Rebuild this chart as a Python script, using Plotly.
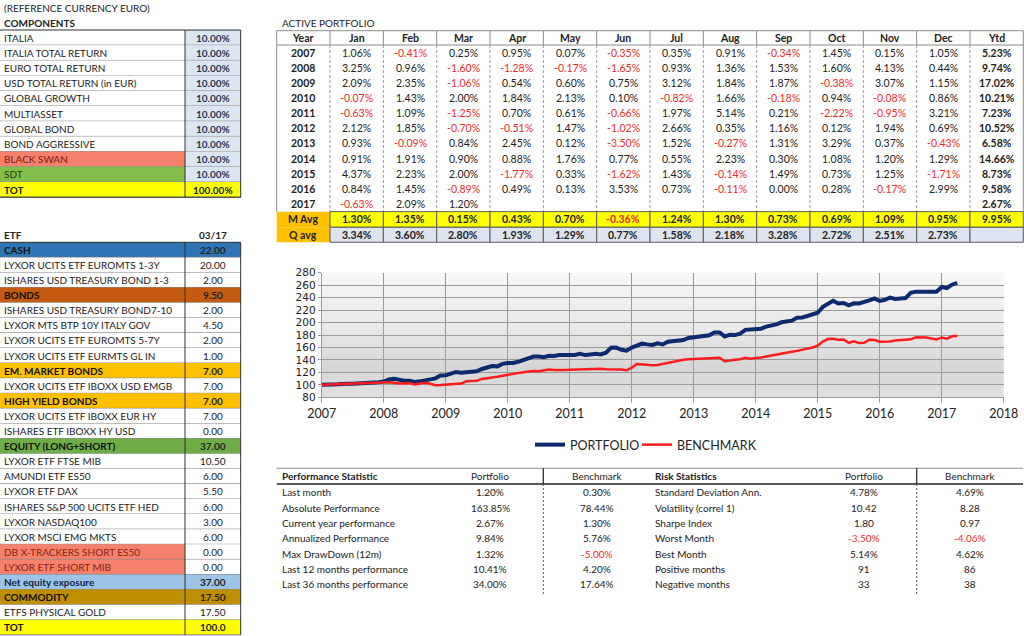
import plotly.graph_objects as go

W, H = 1024, 636
FONT = "Lato"
INK = "#222222"
NEG = "#ee2b2b"

# ---------------- data ----------------
component_names = ["ITALIA", "ITALIA TOTAL RETURN", "EURO TOTAL RETURN", "USD TOTAL RETURN (in EUR)",
                   "GLOBAL GROWTH", "MULTIASSET", "GLOBAL BOND", "BOND AGGRESSIVE", "BLACK SWAN", "SDT", "TOT"]
component_weights = [10.00, 10.00, 10.00, 10.00, 10.00, 10.00, 10.00, 10.00, 10.00, 10.00, 100.00]

etf_names = ["CASH", "LYXOR UCITS ETF EUROMTS 1-3Y", "ISHARES USD TREASURY BOND 1-3", "BONDS",
             "ISHARES USD TREASURY BOND7-10", "LYXOR MTS BTP 10Y ITALY GOV", "LYXOR UCITS ETF EUROMTS 5-7Y",
             "LYXOR UCITS ETF EURMTS GL IN", "EM. MARKET BONDS", "LYXOR UCITS ETF IBOXX USD EMGB",
             "HIGH YIELD BONDS", "LYXOR UCITS ETF IBOXX EUR HY", "ISHARES ETF IBOXX HY USD",
             "EQUITY (LONG+SHORT)", "LYXOR ETF FTSE MIB", "AMUNDI ETF ES50", "LYXOR ETF DAX",
             "ISHARES S&P 500 UCITS ETF HED", "LYXOR NASDAQ100", "LYXOR MSCI EMG MKTS",
             "DB X-TRACKERS SHORT ES50", "LYXOR ETF SHORT MIB", "Net equity exposure", "COMMODITY",
             "ETFS PHYSICAL GOLD", "TOT"]
etf_values = [22.00, 20.00, 2.00, 9.50, 2.00, 4.50, 2.00, 1.00, 7.00, 7.00, 7.00, 7.00, 0.00, 37.00,
              10.50, 6.00, 5.50, 6.00, 3.00, 6.00, 0.00, 0.00, 37.00, 17.50, 17.50, 100.0]
etf_date = "03/17"

years = [2007, 2008, 2009, 2010, 2011, 2012, 2013, 2014, 2015, 2016, 2017]
month_names = ["Jan", "Feb", "Mar", "Apr", "May", "Jun", "Jul", "Aug", "Sep", "Oct", "Nov", "Dec"]
returns_2007 = [1.06, -0.41, 0.25, 0.95, 0.07, -0.35, 0.35, 0.91, -0.34, 1.45, 0.15, 1.05]
returns_2008 = [3.25, 0.96, -1.60, -1.28, -0.17, -1.65, 0.93, 1.36, 1.53, 1.60, 4.13, 0.44]
returns_2009 = [2.09, 2.35, -1.06, 0.54, 0.60, 0.75, 3.12, 1.84, 1.87, -0.38, 3.07, 1.15]
returns_2010 = [-0.07, 1.43, 2.00, 1.84, 2.13, 0.10, -0.82, 1.66, -0.18, 0.94, -0.08, 0.86]
returns_2011 = [-0.63, 1.09, -1.25, 0.70, 0.61, -0.66, 1.97, 5.14, 0.21, -2.22, -0.95, 3.21]
returns_2012 = [2.12, 1.85, -0.70, -0.51, 1.47, -1.02, 2.66, 0.35, 1.16, 0.12, 1.94, 0.69]
returns_2013 = [0.93, -0.09, 0.84, 2.45, 0.12, -3.50, 1.52, -0.27, 1.31, 3.29, 0.37, -0.43]
returns_2014 = [0.91, 1.91, 0.90, 0.88, 1.76, 0.77, 0.55, 2.23, 0.30, 1.08, 1.20, 1.29]
returns_2015 = [4.37, 2.23, 2.00, -1.77, 0.33, -1.62, 1.43, -0.14, 1.49, 0.73, 1.25, -1.71]
returns_2016 = [0.84, 1.45, -0.89, 0.49, 0.13, 3.53, 0.73, -0.11, 0.00, 0.28, -0.17, 2.99]
returns_2017 = [-0.63, 2.09, 1.20, None, None, None, None, None, None, None, None, None]
monthly_returns = [returns_2007, returns_2008, returns_2009, returns_2010, returns_2011, returns_2012,
                   returns_2013, returns_2014, returns_2015, returns_2016, returns_2017]
ytd_returns = [5.23, 9.74, 17.02, 10.21, 7.23, 10.52, 6.58, 14.66, 8.73, 9.58, 2.67]
m_avg = [1.30, 1.35, 0.15, 0.43, 0.70, -0.36, 1.24, 1.30, 0.73, 0.69, 1.09, 0.95, 9.95]
q_avg = [3.34, 3.60, 2.80, 1.93, 1.29, 0.77, 1.58, 2.18, 3.28, 2.72, 2.51, 2.73]

# benchmark index (start = 100, then month ends)
benchmark_index = [100.0,
    100.4, 100.7, 101.0, 101.3, 101.6, 101.8, 102.3, 102.8, 103.2, 103.6, 104.1, 104.6,   # 2007
    104.2, 103.4, 102.1, 102.6, 103.0, 100.4, 101.5, 103.4, 101.8, 99.3, 99.6, 100.3,     # 2008
    100.8, 101.5, 102.0, 105.6, 106.0, 106.7, 109.5, 110.4, 111.5, 113.0, 114.6, 116.4,   # 2009
    117.4, 118.8, 120.1, 121.5, 122.2, 122.0, 123.3, 124.6, 123.9, 124.5, 124.0, 124.4,   # 2010
    124.8, 124.2, 125.0, 125.5, 125.2, 125.8, 125.0, 124.9, 125.4, 124.6, 123.3, 127.6,   # 2011
    133.5, 132.5, 131.5, 131.3, 132.0, 133.8, 135.5, 136.5, 138.5, 140.4, 141.2, 142.0,   # 2012
    142.0, 142.3, 142.6, 143.6, 143.4, 137.8, 139.5, 140.4, 141.2, 143.6, 142.0, 142.6,   # 2013
    143.8, 145.5, 147.2, 149.0, 150.5, 152.0, 153.2, 154.5, 156.5, 157.6, 160.0, 163.0,   # 2014
    169.5, 173.5, 174.1, 172.5, 172.8, 167.5, 170.0, 167.0, 167.5, 172.4, 172.0, 169.3,   # 2015
    169.0, 169.5, 171.0, 172.0, 172.5, 173.0, 176.3, 176.3, 176.0, 174.5, 173.0, 176.1,   # 2016
    174.2, 177.9, 178.4]                                                                  # 2017

perf_labels = ["Last month", "Absolute Performance", "Current year performance", "Annualized Performance",
               "Max DrawDown (12m)", "Last 12 months performance", "Last 36 months performance"]
perf_portfolio = ["1.20%", "163.85%", "2.67%", "9.84%", "1.32%", "10.41%", "34.00%"]
perf_benchmark = ["0.30%", "78.44%", "1.30%", "5.76%", "-5.00%", "4.20%", "17.64%"]
risk_labels = ["Standard Deviation Ann.", "Volatility (correl 1)", "Sharpe Index", "Worst Month",
               "Best Month", "Positive months", "Negative months"]
risk_portfolio = ["4.78%", "10.42", "1.80", "-3.50%", "5.14%", "91", "33"]
risk_benchmark = ["4.69%", "8.28", "0.97", "-4.06%", "4.62%", "86", "38"]

# ---------------- helpers ----------------
shapes, annots = [], []


def X(px):
    return px / W


def Y(py):
    return 1 - py / H


def rect(x0, y0, x1, y1, fill=None, line=None, lw=1):
    shapes.append(dict(type="rect", xref="paper", yref="paper", x0=X(x0), x1=X(x1), y0=Y(y1), y1=Y(y0),
                       fillcolor=fill if fill else "rgba(0,0,0,0)",
                       line=dict(color=line if line else "rgba(0,0,0,0)", width=lw if line else 0),
                       layer="below"))


def seg(x0, y0, x1, y1, color="#8c8c8c", lw=1, dash="solid"):
    shapes.append(dict(type="line", xref="paper", yref="paper", x0=X(x0), x1=X(x1), y0=Y(y0), y1=Y(y1),
                       line=dict(color=color, width=lw, dash=dash), layer="below"))


def text(px, py, s, anchor="left", bold=False, color=INK, size=10):
    annots.append(dict(x=X(px), y=Y(py), xref="paper", yref="paper", text=("<b>%s</b>" % s) if bold else s,
                       showarrow=False, xanchor=anchor, yanchor="middle",
                       font=dict(family=FONT, size=size, color=color)))


def pct(v):
    return "%.2f%%" % v


# ---------------- left: components ----------------
text(2, 8, "(REFERENCE CURRENCY EURO)")
text(2, 23, "COMPONENTS", bold=True)
c_top, c_rh = 30.0, 15.2
LX1, VX1 = 185.0, 240.7
comp_style = {"BLACK SWAN": ("#f4816b", "#7a1a10"), "SDT": ("#82bd4a", "#1e3d12"), "TOT": ("#ffff00", INK)}
for i, (name, w) in enumerate(zip(component_names, component_weights)):
    y0 = c_top + i * c_rh
    y1 = y0 + c_rh
    lf, tc = comp_style.get(name, ("#ffffff", INK))
    vf = "#ffff00" if name == "TOT" else "#dce6f1"
    rect(0, y0, LX1, y1, fill=lf)
    rect(LX1, y0, VX1, y1, fill=vf)
    seg(0, y1, VX1, y1, color="#8c8c8c")
    text(2, (y0 + y1) / 2, name, bold=(name == "TOT"), color=tc)
    text((LX1 + VX1) / 2, (y0 + y1) / 2, pct(w), anchor="center", bold=True,
         color=INK if name == "TOT" else "#1f3556")
c_bot = c_top + len(component_names) * c_rh
seg(0, c_top, VX1, c_top, color="#303030")
seg(LX1, c_top, LX1, c_bot, color="#303030")
seg(VX1, c_top, VX1, c_bot, color="#303030")
seg(0, c_bot, VX1, c_bot, color="#303030")

# ---------------- left: ETF table ----------------
text(2, 235, "ETF", bold=True)
text((LX1 + VX1) / 2, 235, etf_date, anchor="center", bold=True)
e_top, e_rh = 242.3, 15.1
etf_style = {
    "CASH": ("#2e75b6", "#2e75b6", True, "#101010"),
    "BONDS": ("#c55a11", "#c55a11", True, "#101010"),
    "EM. MARKET BONDS": ("#ffc000", "#ffc000", True, "#101010"),
    "HIGH YIELD BONDS": ("#ffc000", "#ffc000", True, "#101010"),
    "EQUITY (LONG+SHORT)": ("#70ad47", "#70ad47", True, "#101010"),
    "DB X-TRACKERS SHORT ES50": ("#f4816b", "#ffffff", False, "#8a1e12"),
    "LYXOR ETF SHORT MIB": ("#f4816b", "#ffffff", False, "#8a1e12"),
    "Net equity exposure": ("#9dc3e6", "#9dc3e6", True, "#0d1f44"),
    "COMMODITY": ("#bf8f00", "#bf8f00", True, "#101010"),
    "TOT": ("#ffff00", "#ffff00", True, "#101010"),
}
for i, (name, v) in enumerate(zip(etf_names, etf_values)):
    y0 = e_top + i * e_rh
    y1 = y0 + e_rh
    lf, vf, b, tc = etf_style.get(name, ("#ffffff", "#ffffff", False, INK))
    rect(0, y0, LX1, y1, fill=lf)
    rect(LX1, y0, VX1, y1, fill=vf)
    seg(0, y1, VX1, y1, color="#7f7f7f")
    text(2, (y0 + y1) / 2, name, bold=b, color=tc)
    vs = ("%.1f" % v) if name == "TOT" else ("%.2f" % v)
    text((LX1 + VX1) / 2, (y0 + y1) / 2, vs, anchor="center", bold=b, color=INK)
e_bot = e_top + len(etf_names) * e_rh
seg(0, e_top, VX1, e_top, color="#303030")
seg(LX1, e_top, LX1, e_bot, color="#303030")
seg(VX1, e_top, VX1, e_bot, color="#303030")

# ---------------- active portfolio table ----------------
TS = 10.5
text(280, 23, "ACTIVE PORTFOLIO")
tx0, cw = 276.7, 53.33
cols = ["Year"] + month_names + ["Ytd"]
colx = [tx0 + k * cw for k in range(len(cols) + 1)]
h_top, h_bot = 30.7, 45.0
r_h = 15.15
rect(colx[0], h_top, colx[-1], h_bot, fill="#ffffff", line="#8c8c8c")
for k, c in enumerate(cols):
    if k > 0:
        seg(colx[k], h_top, colx[k], h_bot, color="#8c8c8c")
    text((colx[k] + colx[k + 1]) / 2, (h_top + h_bot) / 2, c, anchor="center", bold=True, size=TS)
d_bot = h_bot + len(years) * r_h
seg(colx[0], h_bot, colx[0], d_bot, color="#8c8c8c")
seg(colx[-1], h_bot, colx[-1], d_bot, color="#8c8c8c")
for k in range(1, len(cols)):
    seg(colx[k], h_bot, colx[k], d_bot, color="#9a9a9a", dash="3px,2px")
for i, (yr, rets, ytd) in enumerate(zip(years, monthly_returns, ytd_returns)):
    yc = h_bot + (i + 0.5) * r_h
    text((colx[0] + colx[1]) / 2, yc, str(yr), anchor="center", bold=True, size=TS)
    for m, r in enumerate(rets):
        if r is None:
            continue
        text((colx[m + 1] + colx[m + 2]) / 2, yc, pct(r), anchor="center",
             color=NEG if r < 0 else INK, size=TS)
    text((colx[13] + colx[14]) / 2, yc, pct(ytd), anchor="center", bold=True, size=TS)

ma_top, ma_bot = d_bot, d_bot + 15.6
qa_top, qa_bot = ma_bot, ma_bot + 15.0
rect(colx[0], ma_top, colx[1], ma_bot, fill="#ffc000")
rect(colx[0], qa_top, colx[1], qa_bot, fill="#ffc000")
text((colx[0] + colx[1]) / 2, (ma_top + ma_bot) / 2, "M Avg", anchor="center", bold=True, size=TS)
text((colx[0] + colx[1]) / 2, (qa_top + qa_bot) / 2, "Q avg", anchor="center", bold=True, size=TS)
for k in range(1, len(cols)):
    rect(colx[k], ma_top, colx[k + 1], ma_bot, fill="#ffff00", line="#5a5a5a")
    rect(colx[k], qa_top, colx[k + 1], qa_bot, fill="#dde3ef", line="#5a5a5a")
for k, v in enumerate(m_avg):
    text((colx[k + 1] + colx[k + 2]) / 2, (ma_top + ma_bot) / 2, pct(v), anchor="center", bold=True,
         color=NEG if v < 0 else INK, size=TS)
for k, v in enumerate(q_avg):
    text((colx[k + 1] + colx[k + 2]) / 2, (qa_top + qa_bot) / 2, pct(v), anchor="center", bold=True, size=TS)

# ---------------- statistics tables ----------------
s_top, s_hdr = 468.3, 484.0
s_row0, s_rh = 492.3, 15.33
seg(276.7, s_top, 1023, s_top, color="#8c8c8c")
seg(276.7, s_hdr, 1023, s_hdr, color="#202020", lw=1.5)
s_end = s_row0 + (len(perf_labels) - 0.5) * s_rh + 3
for xd in (543.3, 916.7):
    seg(xd, s_top, xd, s_hdr, color="#202020", lw=1.2)
    seg(xd, s_hdr, xd, s_end, color="#555555", dash="2px,2px")
hy = (s_top + s_hdr) / 2
text(280, hy, "Performance Statistic", bold=True)
text(490, hy, "Portfolio", anchor="center")
text(597, hy, "Benchmark", anchor="center")
text(652.7, hy, "Risk Statistics", bold=True)
text(864, hy, "Portfolio", anchor="center")
text(970, hy, "Benchmark", anchor="center")
for i in range(len(perf_labels)):
    yc = s_row0 + i * s_rh
    text(280, yc, perf_labels[i])
    text(490, yc, perf_portfolio[i], anchor="center", color=NEG if perf_portfolio[i].startswith("-") else INK)
    text(597, yc, perf_benchmark[i], anchor="center", color=NEG if perf_benchmark[i].startswith("-") else INK)
    text(652.7, yc, risk_labels[i])
    text(864, yc, risk_portfolio[i], anchor="center", color=NEG if risk_portfolio[i].startswith("-") else INK)
    text(970, yc, risk_benchmark[i], anchor="center", color=NEG if risk_benchmark[i].startswith("-") else INK)

# ---------------- chart ----------------
portfolio_index = [100.0]
for rets in monthly_returns:
    for r in rets:
        if r is not None:
            portfolio_index.append(portfolio_index[-1] * (1 + r / 100.0))
x_port = [years[0] + i / 12.0 for i in range(len(portfolio_index))]
x_bench = [years[0] + i / 12.0 for i in range(len(benchmark_index))]

# plot-area gradient background
stops = [(0.0, 247), (0.45, 232), (0.78, 213), (1.0, 224)]
n_strips = 40


def shade(t):
    for (t0, c0), (t1, c1) in zip(stops[:-1], stops[1:]):
        if t0 <= t <= t1:
            return c0 + (c1 - c0) * (t - t0) / (t1 - t0)
    return stops[-1][1]


for s in range(n_strips):
    t = (s + 0.5) / n_strips
    g = int(round(shade(t)))
    shapes.append(dict(type="rect", xref="x domain", yref="y domain", x0=0, x1=1,
                       y0=1 - (s + 1) / n_strips, y1=1 - s / n_strips + 0.002,
                       fillcolor="rgb(%d,%d,%d)" % (g, g, g), line=dict(width=0), layer="below"))

fig = go.Figure()
fig.add_trace(go.Scatter(x=x_port, y=portfolio_index, mode="lines", name="PORTFOLIO",
                         line=dict(color="#0c2a6e", width=4), hoverinfo="skip", legend="legend"))
fig.add_trace(go.Scatter(x=x_bench, y=benchmark_index, mode="lines", name="BENCHMARK",
                         line=dict(color="#ff1c1c", width=2.5), hoverinfo="skip", legend="legend2"))

legfont = dict(family=FONT, size=12.5, color=INK)
fig.update_layout(
    width=W, height=H, autosize=False,
    margin=dict(l=0, r=0, t=0, b=0),
    paper_bgcolor="#ffffff", plot_bgcolor="rgba(0,0,0,0)",
    xaxis=dict(domain=[321.7 / W, 1003.7 / W], range=[2007, 2018], tick0=2007, dtick=1,
               tickformat="d", showgrid=True, gridcolor="#9a9a9a", gridwidth=1, zeroline=False,
               showline=True, linecolor="#9a9a9a", ticks="outside", ticklen=5, tickcolor="#9a9a9a",
               tickfont=dict(family=FONT, size=12.5, color=INK), fixedrange=True, automargin=False),
    yaxis=dict(domain=[1 - 397.3 / H, 1 - 272.7 / H], range=[80, 280], tick0=80, dtick=20,
               showgrid=True, gridcolor="#9a9a9a", gridwidth=1, zeroline=False,
               showline=True, linecolor="#9a9a9a", ticks="outside", ticklen=3, tickcolor="#9a9a9a",
               tickfont=dict(family="DejaVu Sans", size=10.5, color=INK), fixedrange=True, automargin=False),
    showlegend=True,
    legend=dict(orientation="h", x=530 / W, xanchor="left", y=Y(445), yanchor="middle",
                font=legfont, bgcolor="rgba(0,0,0,0)"),
    legend2=dict(orientation="h", x=637 / W, xanchor="left", y=Y(445), yanchor="middle",
                 font=legfont, bgcolor="rgba(0,0,0,0)"),
    shapes=shapes,
    annotations=annots,
)

fig.write_html("out.html", config={"displayModeBar": False, "staticPlot": True},
               include_mathjax="data:text/javascript,document.body.style.margin='0px';//m.js",
               post_script="document.body.style.margin='0';document.body.style.overflow='hidden';")
